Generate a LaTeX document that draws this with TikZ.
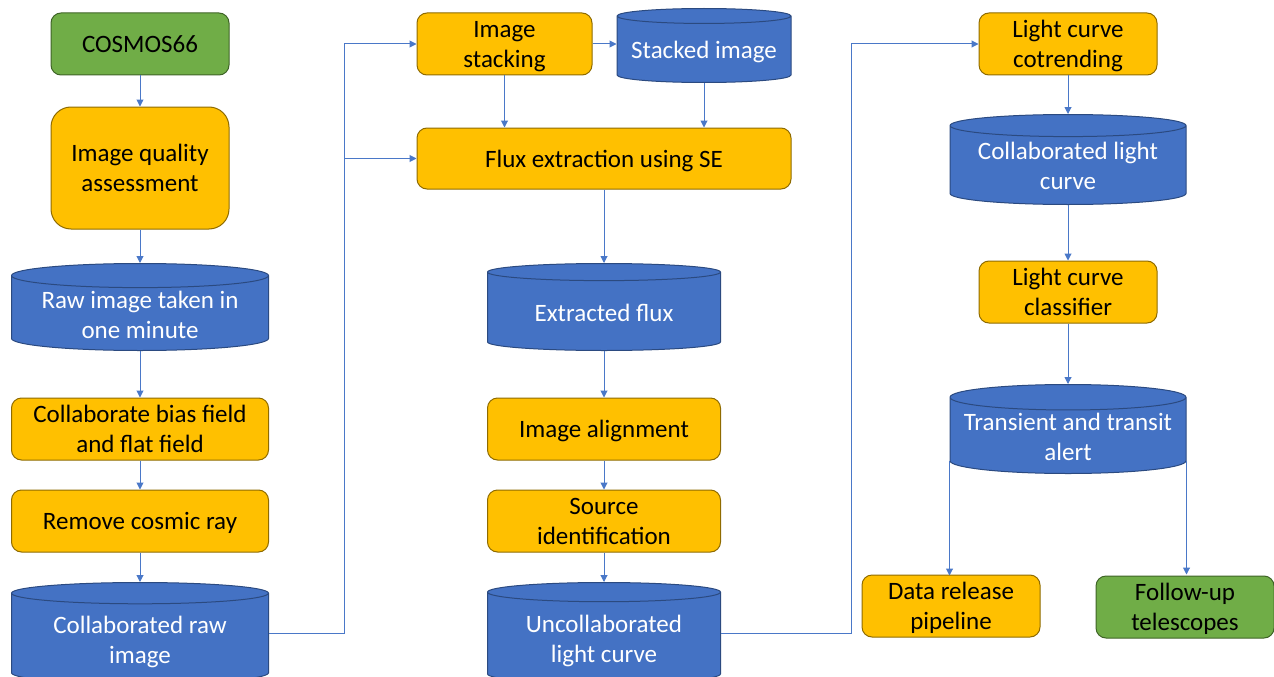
\documentclass[tikz,border=0pt]{standalone}
\usepackage{fontspec}
\setmainfont{Carlito}
\usetikzlibrary{arrows.meta,positioning,shapes.geometric}
\definecolor{taskfill}{HTML}{FFC000}
\definecolor{taskline}{HTML}{8F6B00}
\definecolor{endfill}{HTML}{70AD47}
\definecolor{endline}{HTML}{3F6427}
\definecolor{storefill}{HTML}{4472C4}
\definecolor{storeline}{HTML}{2B4A80}
\definecolor{flowline}{HTML}{4A78C8}

\begin{document}
\begin{tikzpicture}[
  x=1pt, y=-1pt,
  every node/.style={
    align=center, inner sep=2pt, line width=1pt, text depth=0pt,
    font=\fontsize{25}{30}\selectfont
  },
  task/.style={draw=taskline, fill=taskfill, rounded corners=10pt,
    minimum height=62pt},
  terminal/.style={task, draw=endline, fill=endfill},
  store/.style={cylinder, shape border rotate=90, aspect=0.12,
    draw=storeline, fill=storefill, text=white, anchor=north},
  arrow/.style={-{Triangle[length=7pt,width=7pt]}, draw=flowline, line width=1pt}
]
\useasboundingbox (0,0) rectangle (1274,677);

\node[terminal, minimum width=178pt] (cosmos) at (140,44) {COSMOS66};
\node[task, minimum width=178pt, minimum height=122pt, rounded corners=20pt]
  (quality) at (140,168) {Image quality\\assessment};
\node[store, minimum width=257pt, minimum height=87pt] (raw) at (140,263)
  {Raw image taken in\\one minute};
\node[task, minimum width=257pt] (bias) at (140,429)
  {Collaborate bias field\\and flat field};
\node[task, minimum width=257pt] (cosmic) at (140,521) {Remove cosmic ray};
\node[store, minimum width=257pt, minimum height=101pt] (calraw) at (140,582)
  {Collaborated raw\\image};

\node[task, minimum width=175pt] (stack) at (504.5,44) {Image\\stacking};
\node[store, minimum width=174pt, minimum height=74pt, aspect=0.1] (stacked)
  at (704,8) {Stacked image};
\node[task, minimum width=374pt, minimum height=61pt] (flux) at (604,158.5)
  {Flux extraction using SE};
\node[store, minimum width=233pt, minimum height=87pt] (extracted) at (604,263)
  {Extracted flux};
\node[task, minimum width=233pt] (align) at (604,429) {Image alignment};
\node[task, minimum width=233pt] (ident) at (604,521) {Source\\identification};
\node[store, minimum width=233pt, minimum height=101pt] (uncal) at (604,582)
  {Uncollaborated\\light curve};

\node[task, minimum width=178pt] (cotrend) at (1068,44) {Light curve\\cotrending};
\node[store, minimum width=236pt, minimum height=90pt] (curve) at (1068,114)
  {Collaborated light\\curve};
\node[task, minimum width=178pt] (classify) at (1068,292) {Light curve\\classifier};
\node[store, minimum width=236pt, minimum height=89pt] (alert) at (1068,384)
  {Transient and transit\\alert};
\node[task, minimum width=178pt] (release) at (951,606) {Data release\\pipeline};
\node[terminal, minimum width=178pt] (followup) at (1185,607)
  {Follow-up\\telescopes};

\draw[arrow] (cosmos) -- (quality);
\draw[arrow] (quality) -- (raw.north);
\draw[arrow] (raw.south) -- (bias);
\draw[arrow] (bias) -- (cosmic);
\draw[arrow] (cosmic) -- (calraw.north);
\draw[arrow] (calraw.east |- calraw.shape center) -- ++(75,0) |- (stack.west);
\draw[arrow] (calraw.east |- calraw.shape center) -- ++(75,0) |- (flux.west);

\draw[arrow] (stack.east) -- (stack.east -| stacked.west);
\draw[arrow] (stack.south) -- (stack.south |- flux.north);
\draw[arrow] (stacked.south) -- (stacked.south |- flux.north);
\draw[arrow] (flux) -- (extracted.north);
\draw[arrow] (extracted.south) -- (align);
\draw[arrow] (align) -- (ident);
\draw[arrow] (ident) -- (uncal.north);
\draw[arrow] (uncal.east |- uncal.shape center) -- ++(130,0) |- (cotrend.west);

\draw[arrow] (cotrend) -- (curve.north);
\draw[arrow] (curve.south) -- (classify);
\draw[arrow] (classify) -- (alert.north);
\draw[arrow] (alert.before bottom) -- (alert.before bottom |- release.north);
\draw[arrow] (alert.after bottom) -- (alert.after bottom |- followup.north);

\end{tikzpicture}
\end{document}
